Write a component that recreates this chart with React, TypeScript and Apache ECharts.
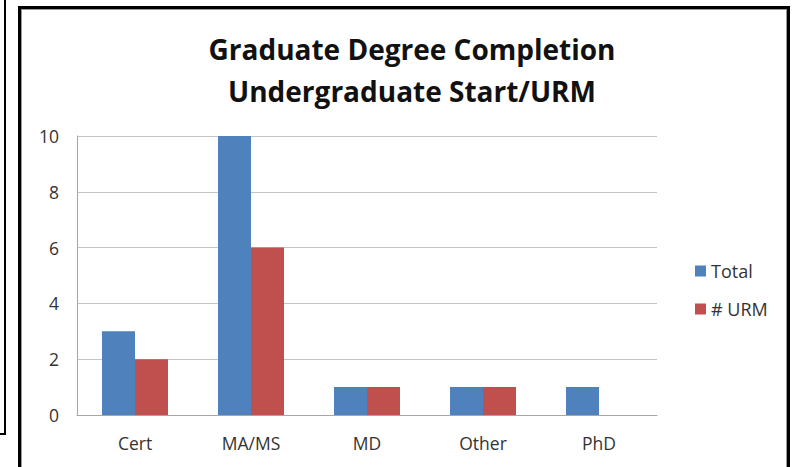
import React, { useEffect, useRef } from "react";
import * as echarts from "echarts";

const categories = ["Cert", "MA/MS", "MD", "Other", "PhD"];
const totalValues = [3, 10, 1, 1, 1];
const urmValues = [2, 6, 1, 1, 0];
const seriesNames = ["Total", "# URM"];
const titleLines = ["Graduate Degree Completion", "Undergraduate Start/URM"];

const FONT = "'Open Sans', 'Noto Sans', sans-serif";

export default function App() {
  const ref = useRef<HTMLDivElement>(null);
  useEffect(() => {
    if (!ref.current) return;
    const chart = echarts.init(ref.current, undefined, { renderer: "svg" });
    chart.setOption({
      animation: false,
      backgroundColor: "#ffffff",
      title: {
        text: titleLines.join("\n"),
        left: 407,
        top: 23,
        textAlign: "center",
        textStyle: {
          fontFamily: FONT,
          fontWeight: "bold",
          fontSize: 28,
          lineHeight: 42,
          color: "#111111",
        },
      },
      legend: {
        orient: "vertical",
        left: 690,
        top: 257,
        itemWidth: 11,
        itemHeight: 11,
        itemGap: 20,
        icon: "rect",
        data: seriesNames,
        textStyle: { fontFamily: FONT, fontSize: 18, color: "#333333" },
      },
      grid: { left: 77, right: 135, top: 136, bottom: 52, containLabel: false },
      xAxis: {
        type: "category",
        data: categories,
        axisLine: { show: true, lineStyle: { color: "#a6a6a6", width: 1 } },
        axisTick: { show: false },
        axisLabel: { fontFamily: FONT, fontSize: 17.5, color: "#333333", margin: 19 },
      },
      yAxis: {
        type: "value",
        min: 0,
        max: 10,
        interval: 2,
        axisLine: { show: true, lineStyle: { color: "#a6a6a6", width: 1 } },
        axisTick: { show: false },
        splitLine: { show: true, lineStyle: { color: "#c4c4c4", width: 1 } },
        axisLabel: { fontFamily: FONT, fontSize: 17.5, color: "#333333", margin: 18 },
      },
      series: [
        {
          name: seriesNames[0],
          type: "bar",
          data: totalValues,
          barWidth: 33,
          barGap: "0%",
          itemStyle: { color: "#4F81BD" },
        },
        {
          name: seriesNames[1],
          type: "bar",
          data: urmValues,
          barWidth: 33,
          barGap: "0%",
          itemStyle: { color: "#C0504D" },
        },
      ],
      graphic: [
        { type: "line", shape: { x1: 5, y1: 0, x2: 5, y2: 435 }, style: { stroke: "#000", lineWidth: 2 } },
        { type: "line", shape: { x1: 0, y1: 434, x2: 6, y2: 434 }, style: { stroke: "#000", lineWidth: 2 } },
        { type: "line", shape: { x1: 19.5, y1: 6, x2: 19.5, y2: 467 }, style: { stroke: "#000", lineWidth: 3 } },
        { type: "line", shape: { x1: 18, y1: 7.5, x2: 790, y2: 7.5 }, style: { stroke: "#000", lineWidth: 3 } },
        { type: "line", shape: { x1: 788.5, y1: 6, x2: 788.5, y2: 467 }, style: { stroke: "#000", lineWidth: 3 } },
        { type: "line", shape: { x1: 21.5, y1: 9.5, x2: 21.5, y2: 467 }, style: { stroke: "#999", lineWidth: 1 } },
        { type: "line", shape: { x1: 21, y1: 9.5, x2: 786, y2: 9.5 }, style: { stroke: "#999", lineWidth: 1 } },
        { type: "line", shape: { x1: 786.5, y1: 9, x2: 786.5, y2: 467 }, style: { stroke: "#999", lineWidth: 1 } },
      ],
    });
    return () => chart.dispose();
  }, []);
  return (
    <div
      ref={ref}
      style={{ position: "fixed", left: 0, top: 0, width: 792, height: 467 }}
    />
  );
}
